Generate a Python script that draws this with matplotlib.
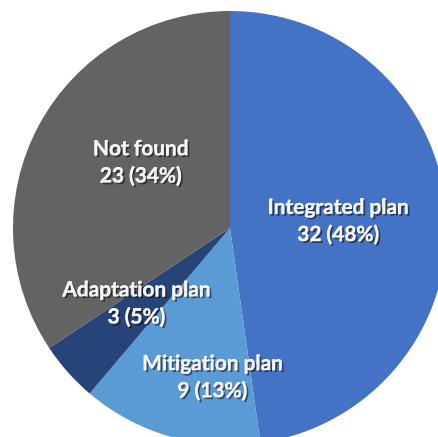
import matplotlib.pyplot as plt
import matplotlib.patheffects as pe

labels = ['Integrated plan', 'Mitigation plan', 'Adaptation plan', 'Not found']
counts = [32, 9, 3, 23]
percents = [48, 13, 5, 34]
colors = ['#4472C4', '#5B9BD5', '#264478', '#636363']

# where each label block sits, in pie radius units
label_xy = [(0.50, 0.03), (-0.08, -0.69), (-0.43, -0.35), (-0.41, 0.30)]

fig = plt.figure(figsize=(4.39, 4.37), dpi=100)
ax = fig.add_axes([0, 0, 1, 1])
ax.pie(counts, colors=colors, startangle=90, counterclock=False, radius=1.0,
       wedgeprops=dict(linewidth=0))
ax.set_xlim(-230 / 217, 209 / 217)
ax.set_ylim(-209 / 217, 228 / 217)
ax.set_aspect('equal')
ax.axis('off')

shadow = [pe.withStroke(linewidth=0.4, foreground='#f4f4f4'),
          pe.SimplePatchShadow(offset=(1.3, -1.3), shadow_rgbFace='black', alpha=0.5),
          pe.Normal()]
for lab, n, p, (x, y) in zip(labels, counts, percents, label_xy):
    ax.text(x, y, f'{lab}\n{n} ({p}%)', ha='center', va='center', color='#f4f4f4',
            fontsize=15, fontweight='bold', family='Lato', linespacing=1.45,
            path_effects=shadow)

plt.savefig('out.png', dpi=100)
